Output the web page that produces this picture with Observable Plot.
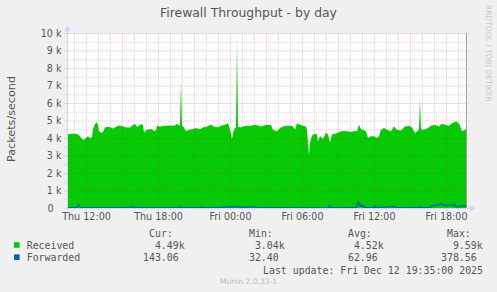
<!DOCTYPE html>
<html><head><meta charset="utf-8">
<script src="https://cdn.jsdelivr.net/npm/d3@7"></script>
<script src="https://cdn.jsdelivr.net/npm/@observablehq/plot@0.6"></script>
<style>
html,body{margin:0;padding:0;background:#f0f0f0;}
svg text{white-space:pre;}
</style></head><body><div id="chart"></div>
<script>
const title = "Firewall Throughput - by day";
const yLabel = "Packets/second";
const watermark = "RRDTOOL / TOBI OETIKER";
const footer = "Munin 2.0.33-1";
const lastUpdate = "Last update: Fri Dec 12 19:35:00 2025";

const yTicks = [0,1000,2000,3000,4000,5000,6000,7000,8000,9000,10000];
const yTickLabels = ["0","1 k","2 k","3 k","4 k","5 k","6 k","7 k","8 k","9 k","10 k"];
const yMinorTicks = [500,1500,2500,3500,4500,5500,6500,7500,8500,9500];
// minutes relative to Thu Dec 11 2025 12:00
const xTickMinutes = [0,360,720,1080,1440,1800];
const xTickLabels = ["Thu 12:00","Thu 18:00","Fri 00:00","Fri 06:00","Fri 12:00","Fri 18:00"];
const xDomainMinutes = [-95,1905];

const recvMinutes = [-95,-80,-50,-40,-30,-20,-10,0,10,20,30,35,45,55,60,65,75,85,95,110,125,135,145,160,175,190,205,220,235,245,255,265,275,285,290,300,315,330,340,350,355,370,385,400,420,440,455,465,470,475,480,490,500,515,530,550,570,585,605,625,640,660,675,695,710,720,730,735,745,750,755,760,770,785,805,825,845,860,875,890,905,925,935,955,970,985,1005,1025,1035,1045,1055,1070,1085,1100,1105,1115,1120,1130,1145,1155,1160,1170,1185,1200,1210,1220,1230,1245,1260,1275,1295,1310,1325,1340,1355,1365,1375,1390,1400,1410,1425,1440,1455,1465,1475,1490,1505,1525,1540,1555,1575,1595,1615,1630,1645,1660,1665,1670,1675,1690,1710,1725,1745,1765,1780,1795,1815,1830,1850,1865,1880,1890,1900];
const recvValues = [4200,4250,4250,4200,4100,3950,3900,4000,4100,4000,4050,4500,4800,4900,4750,4400,4300,4350,4600,4650,4600,4550,4600,4700,4700,4650,4600,4600,4750,4800,4650,4700,4800,4750,4300,4450,4500,4500,4400,4450,4700,4650,4700,4700,4720,4700,4800,4750,4700,7250,4700,4600,4380,4470,4500,4570,4500,4600,4660,4760,4660,4620,4700,4760,4850,4470,3940,4300,4570,4600,9590,4660,4600,4660,4700,4700,4760,4720,4660,4720,4760,4750,4470,4380,4570,4660,4700,4700,4660,4470,4850,4760,4700,4660,4450,3040,3700,4150,4250,4200,3800,4100,3950,4300,4200,3750,4200,4250,4300,4380,4400,4380,4350,4400,4380,4760,4500,4450,4380,4000,4100,4100,4000,4100,4470,4570,4470,4380,4660,4470,4430,4660,4700,4600,4280,4430,4500,6200,4500,4470,4570,4700,4760,4660,4820,4760,4700,4850,4950,4850,4380,4450,4490];

const fwdMinutes = [-95,-60,-50,-45,-40,-35,-30,60,150,225,230,235,240,350,465,470,475,520,565,570,575,650,750,755,765,770,840,845,950,1100,1210,1215,1220,1300,1350,1355,1360,1365,1370,1375,1380,1385,1390,1435,1440,1445,1540,1545,1600,1660,1665,1670,1720,1725,1740,1765,1775,1785,1835,1840,1845,1870,1880,1890,1900];
const fwdValues = [45,40,50,120,230,100,45,40,50,50,130,130,50,45,50,130,50,40,45,120,45,40,120,50,120,45,110,45,40,35,50,160,50,40,60,300,378,250,120,200,100,180,60,50,160,50,110,45,50,50,110,50,60,150,190,190,300,180,180,280,120,120,160,150,143];

const seriesNames = ["Received","Forwarded"];
const seriesColors = ["#00CC00","#0066B3"];
const curValues = ["4.49k","143.06"];
const minValues = ["3.04k","32.40"];
const avgValues = ["4.52k","62.96"];
const maxValues = ["9.59k","378.56"];
const legendHeaders = ["Cur:","Min:","Avg:","Max:"];

const base = Date.UTC(2025,11,11,12,0);
const toDate = m => new Date(base + m*60000);
const received = recvMinutes.map((m,i)=>({t:toDate(m), v:recvValues[i]}));
const forwarded = fwdMinutes.map((m,i)=>({t:toDate(m), v:fwdValues[i]}));
const domain = xDomainMinutes.map(toDate);
const hours = d3.utcHour.range(domain[0], domain[1]);
const majorHours = hours.filter(h => h.getUTCHours() % 3 === 0);
const minorHours = hours.filter(h => h.getUTCHours() % 3 !== 0);

const fontSans = "DejaVu Sans";
const textColor = "#555";
const axisColor = "#CFD6F8";

const chart = Plot.plot({
  width: 497, height: 292,
  marginLeft: 67, marginRight: 30, marginTop: 33, marginBottom: 84,
  x: {type: "utc", domain, axis: null},
  y: {domain: [0, 10000], axis: null},
  style: {background: "#f0f0f0", fontFamily: fontSans, overflow: "visible"},
  marks: [
    Plot.frame({fill: "white", stroke: null}),
    Plot.areaY(received, {x: "t", y: "v", fill: seriesColors[0], curve: "linear"}),
    Plot.ruleY(yMinorTicks, {stroke: "#8c8c8c", strokeOpacity: 0.35, strokeDasharray: "1,1", insetLeft: -3, insetRight: -3}),
    Plot.ruleX(minorHours, {stroke: "#8c8c8c", strokeOpacity: 0.35, strokeDasharray: "1,1", insetBottom: -3}),
    Plot.ruleY(yTicks.filter(d => d > 0), {stroke: "#ff0000", strokeOpacity: 0.25, strokeDasharray: "1,1", insetLeft: -3, insetRight: -3}),
    Plot.ruleX(majorHours, {stroke: "#ff0000", strokeOpacity: 0.25, strokeDasharray: "1,1", insetBottom: -3}),
    Plot.lineY(forwarded, {x: "t", y: "v", stroke: seriesColors[1], strokeWidth: 1.5, curve: "linear"}),
    Plot.ruleX([domain[1]], {stroke: "#999", dx: -1}),
    Plot.ruleX([domain[0]], {stroke: axisColor, insetTop: -2, insetBottom: -3}),
    Plot.ruleY([0], {stroke: axisColor, insetLeft: -3, insetRight: -3}),
    Plot.dot([0], {x: () => domain[0], y: () => 10000, symbol: "triangle", r: 2.6, fill: axisColor, stroke: null, dy: -4}),
    Plot.dot([0], {x: () => domain[1], y: () => 0, symbol: "triangle", r: 2.6, fill: axisColor, stroke: null, rotate: 90, dx: 4}),
    Plot.text(yTicks, {y: d => d, text: (d, i) => yTickLabels[i], frameAnchor: "left", textAnchor: "end", dx: -6, fontSize: 9.6, fill: textColor}),
    Plot.text(xTickMinutes, {x: m => toDate(m), text: (d, i) => xTickLabels[i], frameAnchor: "bottom", lineAnchor: "top", dy: 4.5, fontSize: 9.6, fill: textColor})
  ]
});
document.getElementById("chart").appendChild(chart);

// fix "0" label offset like rrdtool (no unit suffix)
const svg = d3.select(chart);
svg.selectAll("text").filter(function(){ return this.textContent === "0"; })
  .attr("transform", function(){ return (this.getAttribute("transform")||"") + " translate(-8,0)"; });

const addText = (x, y, str, opts = {}) => svg.append("text")
  .attr("x", x).attr("y", y)
  .attr("text-anchor", opts.anchor || "start")
  .attr("font-family", opts.family || fontSans)
  .attr("font-size", opts.size || 10)
  .attr("fill", opts.fill || textColor)
  .attr("transform", opts.transform || null)
  .text(str);

addText(248.5, 17.4, title, {anchor: "middle", size: 12.4});
addText(0, 0, yLabel, {anchor: "middle", size: 11.2, transform: "translate(15,119) rotate(-90)"});
addText(0, 0, watermark, {anchor: "start", size: 7.5, fill: "#c8c8c8", transform: "translate(485.5,5) rotate(90)"});

const mono = "DejaVu Sans Mono";
const lfs = 9.9;
const headerX = [149, 249, 348, 447];
const fieldX = [143, 243, 342, 441];
legendHeaders.forEach((h, i) => addText(headerX[i], 237.3, h, {family: mono, size: lfs}));
const pad = s => (/[a-z]$/i.test(s) ? s : s + " ").padStart(7);
const rowY = [249, 261.2];
seriesNames.forEach((name, r) => {
  svg.append("rect").attr("x", 14).attr("y", rowY[r] - 6.8).attr("width", 5.6).attr("height", 5.6).attr("fill", seriesColors[r]);
  addText(26.7, rowY[r], name, {family: mono, size: lfs});
  [curValues, minValues, avgValues, maxValues].forEach((col, c) => {
    addText(fieldX[c], rowY[r], pad(col[r]), {family: mono, size: lfs});
  });
});
addText(483, 273.8, lastUpdate, {anchor: "end", family: mono, size: lfs});
addText(248.5, 284, footer, {anchor: "middle", size: 7.6, fill: "#bbb"});
</script></body></html>
